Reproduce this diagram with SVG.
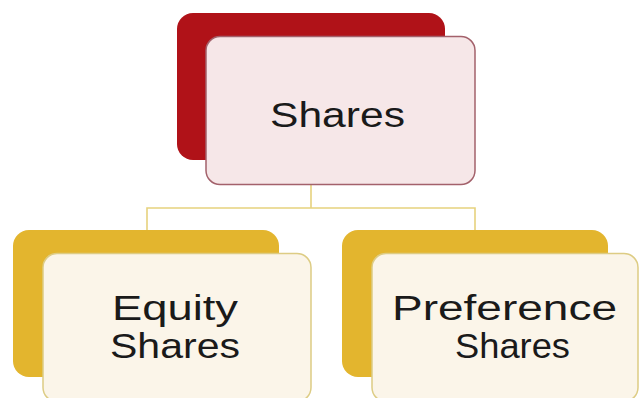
<svg xmlns="http://www.w3.org/2000/svg" width="639" height="398" viewBox="0 0 639 398">
  <defs>
    <style>
      .lbl { font-family: "Liberation Sans", Arial, sans-serif; font-size: 35px; fill: #1a1a1a; }
      .conn { fill: none; stroke: #E6D27E; stroke-width: 1.6; }
    </style>
  </defs>
  <rect x="0" y="0" width="639" height="398" fill="#FFFFFF"/>
  <g id="connectors">
    <path class="conn" d="M311 185 V208 M147 230 V208 H475 V230"/>
  </g>
  <g id="node-shares">
    <rect x="177" y="13" width="268" height="147" rx="16" fill="#B01218"/>
    <rect x="206" y="36.5" width="269" height="148" rx="14" fill="#F6E7E8" stroke="#A3616B" stroke-width="1.5"/>
    <text class="lbl" x="270" y="127" textLength="135" lengthAdjust="spacingAndGlyphs">Shares</text>
  </g>
  <g id="node-equity">
    <rect x="13" y="230" width="266" height="147" rx="16" fill="#E3B52E"/>
    <rect x="43" y="253.5" width="268" height="148" rx="14" fill="#FBF5E9" stroke="#DDCC84" stroke-width="1.5"/>
    <text class="lbl" x="112" y="320" textLength="126" lengthAdjust="spacingAndGlyphs">Equity</text>
    <text class="lbl" x="110" y="358" textLength="130" lengthAdjust="spacingAndGlyphs">Shares</text>
  </g>
  <g id="node-preference">
    <rect x="342" y="230" width="266" height="147" rx="16" fill="#E3B52E"/>
    <rect x="372" y="253.5" width="266" height="148" rx="14" fill="#FBF5E9" stroke="#DDCC84" stroke-width="1.5"/>
    <text class="lbl" x="392" y="320" textLength="225" lengthAdjust="spacingAndGlyphs">Preference</text>
    <text class="lbl" x="455" y="358" textLength="115" lengthAdjust="spacingAndGlyphs">Shares</text>
  </g>
</svg>
